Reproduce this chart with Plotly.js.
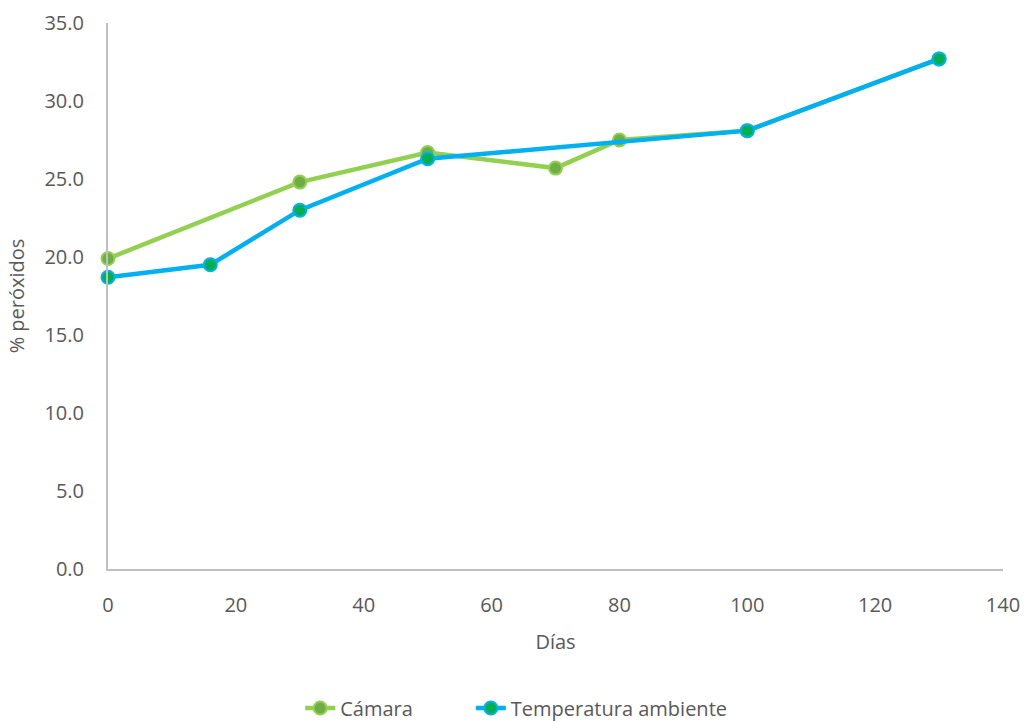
<!DOCTYPE html>
<html>
<head>
<meta charset="utf-8">
<script src="https://cdn.plot.ly/plotly-3.0.1.min.js"></script>
<style>
  html, body { margin: 0; padding: 0; background: #fff; }
  #chart { width: 1028px; height: 721px; }
</style>
</head>
<body>
<div id="chart"></div>
<script>
// Peroxide index over storage time
const diasCamara = [0, 30, 50, 70, 80, 100, 130];
const peroxCamara = [19.9, 24.8, 26.7, 25.7, 27.5, 28.1, 32.7];

const diasAmbiente = [0, 16, 30, 50, 100, 130];
const peroxAmbiente = [18.7, 19.5, 23.0, 26.3, 28.1, 32.7];

const nombreCamara = 'Cámara';
const nombreAmbiente = 'Temperatura ambiente';

const FONT = '"Open Sans", sans-serif';
const GRAY = '#595959';

const traces = [
  {
    x: diasCamara, y: peroxCamara, name: nombreCamara,
    type: 'scatter', mode: 'lines+markers', legend: 'legend', cliponaxis: false,
    line: { color: '#92D050', width: 4.5 },
    marker: { size: 13, color: '#70AD47', line: { color: '#92D050', width: 2 } }
  },
  {
    x: diasAmbiente, y: peroxAmbiente, name: nombreAmbiente,
    type: 'scatter', mode: 'lines+markers', legend: 'legend2', cliponaxis: false,
    line: { color: '#00B0F0', width: 4.5 },
    marker: { size: 13, color: '#00B050', line: { color: '#00B0F0', width: 2 } }
  }
];

// one legend box per series so the two entries can sit apart
const legendBase = {
  orientation: 'h',
  xref: 'container', yref: 'container',
  xanchor: 'left', y: 0.018, yanchor: 'middle',
  font: { family: FONT, size: 20, color: GRAY }
};

const layout = {
  width: 1028, height: 721,
  margin: { l: 108, r: 25, t: 23, b: 152, autoexpand: false },
  paper_bgcolor: '#fff', plot_bgcolor: '#fff',
  font: { family: FONT, size: 20, color: GRAY },
  showlegend: true,
  legend: Object.assign({}, legendBase, { x: 0.292 }),
  legend2: Object.assign({}, legendBase, { x: 0.458 }),
  xaxis: {
    range: [0, 140], dtick: 20, tick0: 0,
    showgrid: false, zeroline: false,
    showline: true, linecolor: '#BFBFBF', linewidth: 2,
    ticks: '', ticklabelstandoff: 17, automargin: false,
    tickfont: { family: FONT, size: 20, color: GRAY },
    title: { text: 'Días', standoff: 18, font: { family: FONT, size: 20, color: GRAY } }
  },
  yaxis: {
    range: [0, 35], dtick: 5, tick0: 0, tickformat: '.1f',
    showgrid: false, zeroline: false,
    showline: true, linecolor: '#BFBFBF', linewidth: 2,
    ticks: '', ticklabelstandoff: 18, automargin: false,
    tickfont: { family: FONT, size: 20, color: GRAY },
    title: { text: '% peróxidos', standoff: 14, font: { family: FONT, size: 20, color: GRAY } }
  }
};

Plotly.newPlot('chart', traces, layout, { displayModeBar: false, staticPlot: true });
</script>
</body>
</html>
